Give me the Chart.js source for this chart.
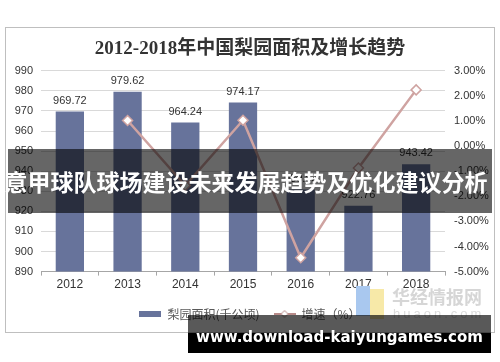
<!DOCTYPE html>
<html>
<head>
<meta charset="utf-8">
<script src="https://cdn.jsdelivr.net/npm/chart.js@4.4.1/dist/chart.umd.min.js"></script>
<style>
    html, body { margin: 0; padding: 0; background: #fff; }
    body { width: 500px; height: 362px; position: relative; overflow: hidden; font-family: "Liberation Sans", Arial, sans-serif; }
    #frame { position: absolute; left: 5px; top: 27px; width: 490px; height: 306px; border: 1px solid #bfbfbf; box-sizing: border-box; }
    #wrap { position: absolute; left: 0; top: 0; width: 488px; height: 304px; }
    .banner { position: absolute; left: 8px; top: 149px; width: 484px; height: 64px; background: rgba(0, 0, 0, 0.6); }
    .banner-text { position: absolute; left: -4px; top: 149px; width: 500px; height: 64px; line-height: 64px; text-align: center; color: #fff; font-family: "Noto Sans CJK SC", sans-serif; font-weight: 700; font-size: 23px; white-space: nowrap; }
    .wm-text { position: absolute; left: 392px; top: 283px; color: #d6d6d6; font-family: "Noto Sans CJK SC", sans-serif; font-weight: 700; font-size: 18px; white-space: nowrap; }
    .wm-url { position: absolute; left: 393px; top: 306px; color: #dcdcdc; font-size: 13px; letter-spacing: 3px; }
    .wm-blue { position: absolute; left: 356px; top: 286px; width: 14px; height: 30px; background: #a9c8ef; }
    .wm-yellow { position: absolute; left: 370px; top: 289px; width: 14px; height: 30px; background: #f7e9a8; }
    .foot-gray { position: absolute; left: 188px; top: 315px; width: 303px; height: 18px; background: rgba(0, 0, 0, 0.65); }
    .foot-black { position: absolute; left: 188px; top: 333px; width: 303px; height: 20px; background: #000; }
    .foot-text { position: absolute; left: 188px; top: 324px; width: 303px; height: 26px; line-height: 26px; text-align: center; color: #fff; font-family: "DejaVu Sans", sans-serif; font-weight: 700; font-size: 15px; white-space: nowrap; }
</style>
</head>
<body>
<div id="frame"><div id="wrap"><canvas id="chart"></canvas></div></div>
<div class="banner"></div>
<div class="banner-text">意甲球队球场建设未来发展趋势及优化建议分析</div>
<div class="wm-blue"></div>
<div class="wm-yellow"></div>
<div class="wm-text">华经情报网</div>
<div class="wm-url">huaon.com</div>
<div class="foot-gray"></div>
<div class="foot-black"></div>
<div class="foot-text">www.download-kaiyungames.com</div>
<script>
const years = ['2012', '2013', '2014', '2015', '2016', '2017', '2018'];
const area = [969.72, 979.62, 964.24, 974.17, 930.83, 922.76, 943.42];
const growth = [null, 1.02, -1.57, 1.03, -4.45, -0.87, 2.24];
const titleText = '2012-2018年中国梨园面积及增长趋势';
const areaLabel = '梨园面积(千公顷)';
const growthLabel = '增速（%）';

const barColor = '#67739b';
const lineColor = '#cfa3a1';

function swatch(kind) {
    const c = document.createElement('canvas');
    c.width = 22;
    c.height = 10;
    const g = c.getContext('2d');
    if (kind === 'bar') {
        g.fillStyle = barColor;
        g.fillRect(0, 2, 22, 6);
    } else {
        g.strokeStyle = '#b88b89';
        g.lineWidth = 2;
        g.beginPath();
        g.moveTo(0, 5);
        g.lineTo(22, 5);
        g.stroke();
        g.fillStyle = '#fff';
        g.lineWidth = 1;
        g.beginPath();
        g.moveTo(11, 1.5);
        g.lineTo(14.5, 5);
        g.lineTo(11, 8.5);
        g.lineTo(7.5, 5);
        g.closePath();
        g.fill();
        g.stroke();
    }
    return c;
}

// value labels above the bars (dataset 1 is the bar series)
const barLabels = {
    id: 'barLabels',
    afterDatasetsDraw(chart) {
        const ctx = chart.ctx;
        const meta = chart.getDatasetMeta(1);
        ctx.save();
        ctx.font = '11px "Liberation Sans", Arial, sans-serif';
        ctx.fillStyle = '#333';
        ctx.textAlign = 'center';
        ctx.textBaseline = 'middle';
        meta.data.forEach(function (bar, i) {
            ctx.fillText(area[i].toFixed(2), bar.x, bar.y - 11);
        });
        ctx.restore();
    }
};

new Chart(document.getElementById('chart'), {
    data: {
        labels: years,
        datasets: [{
            type: 'line',
            label: growthLabel,
            data: growth,
            yAxisID: 'y1',
            borderColor: lineColor,
            borderWidth: 2.5,
            pointStyle: 'rectRot',
            pointRadius: 5,
            pointBorderWidth: 1.5,
            pointBackgroundColor: '#fff',
            pointBorderColor: lineColor,
            tension: 0,
            order: 0
        }, {
            type: 'bar',
            label: areaLabel,
            data: area,
            yAxisID: 'y',
            backgroundColor: barColor,
            barPercentage: 0.49,
            categoryPercentage: 1,
            order: 1
        }]
    },
    options: {
        responsive: true,
        maintainAspectRatio: false,
        animation: false,
        layout: { padding: { left: 0, right: 0, top: 0, bottom: 2 } },
        plugins: {
            title: {
                display: true,
                text: titleText,
                color: '#333',
                font: { family: '"Liberation Serif", "Noto Sans CJK SC", serif', size: 19, weight: 'bold' },
                padding: { top: 10, bottom: 10 }
            },
            legend: {
                position: 'bottom',
                reverse: true,
                labels: {
                    usePointStyle: true,
                    pointStyleWidth: 22,
                    boxHeight: 10,
                    padding: 14,
                    color: '#595959',
                    font: { family: '"Noto Sans CJK SC", sans-serif', size: 12 },
                    generateLabels: function (chart) {
                        const items = Chart.defaults.plugins.legend.labels.generateLabels(chart);
                        items.forEach(function (it) {
                            it.pointStyle = swatch(it.datasetIndex === 1 ? 'bar' : 'line');
                        });
                        return items;
                    }
                }
            },
            tooltip: { enabled: false }
        },
        scales: {
            x: {
                offset: true,
                grid: { display: true, drawOnChartArea: false, offset: true, tickLength: 4, color: '#a6a6a6' },
                border: { color: '#a6a6a6' },
                ticks: { color: '#333', padding: 2, font: { size: 12 } }
            },
            y: {
                position: 'left',
                min: 890,
                max: 990,
                afterFit: function (s) { s.width = 35; },
                grid: { color: '#d9d9d9', drawTicks: false },
                border: { display: false },
                ticks: { stepSize: 10, color: '#333', padding: 8, font: { size: 11 } }
            },
            y1: {
                position: 'right',
                min: -5,
                max: 3,
                afterFit: function (s) { s.width = 49; },
                grid: { display: false, drawOnChartArea: false, drawTicks: false },
                border: { display: false },
                ticks: {
                    stepSize: 1,
                    color: '#333',
                    padding: 9,
                    font: { size: 11 },
                    callback: function (v) { return v.toFixed(2) + '%'; }
                }
            }
        }
    },
    plugins: [barLabels]
});
</script>
</body>
</html>
